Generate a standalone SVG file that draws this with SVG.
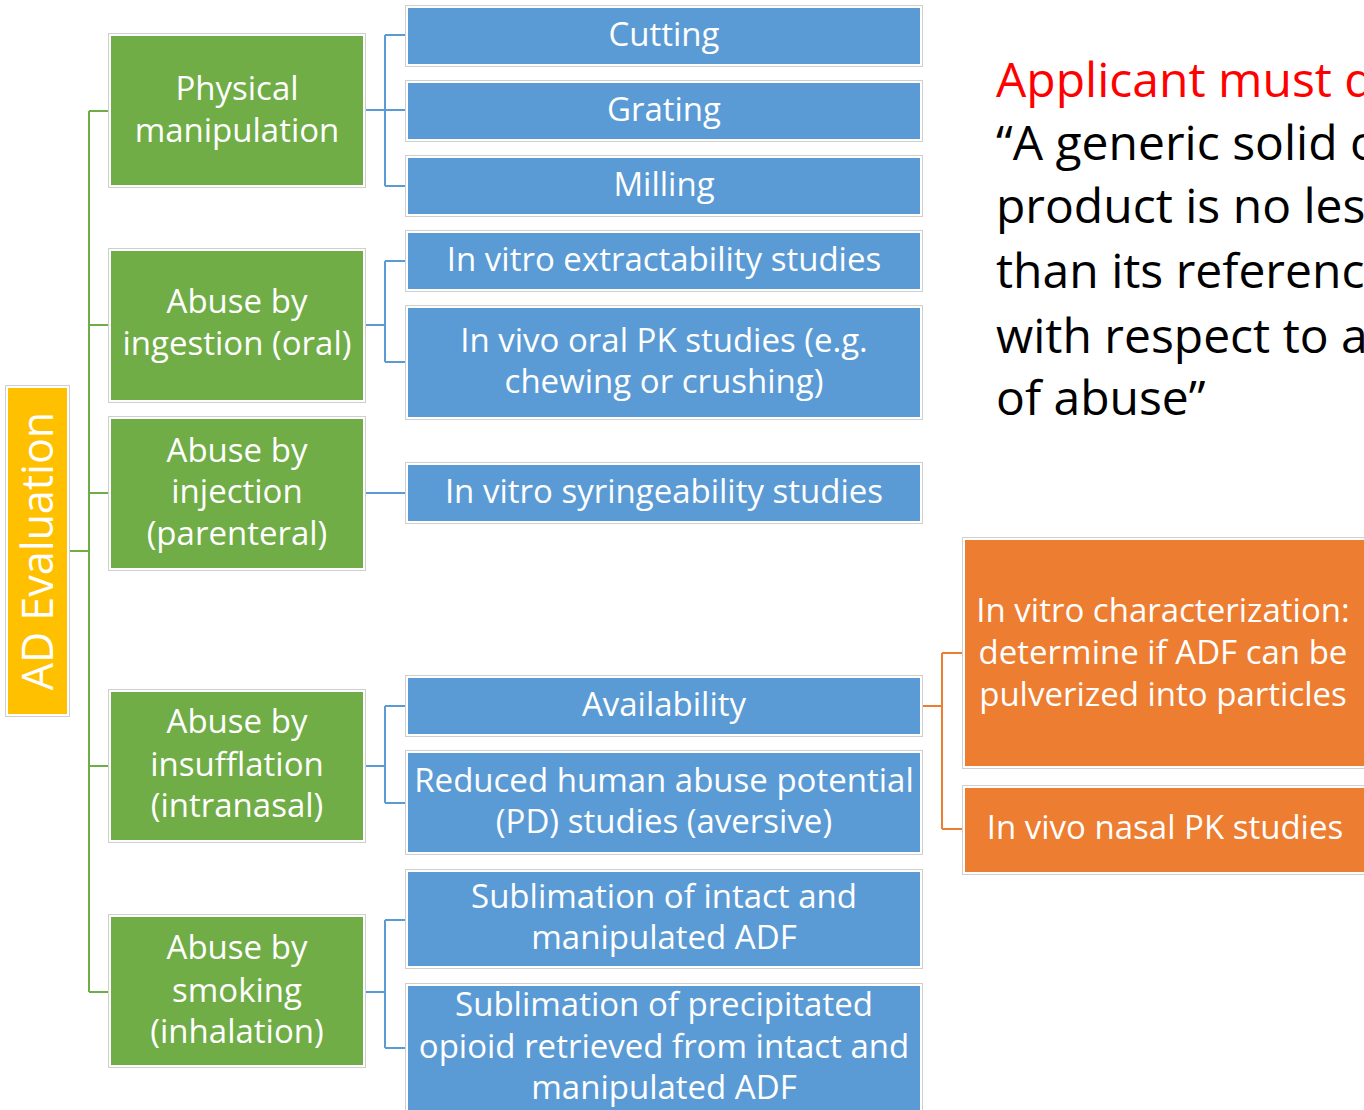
<svg xmlns="http://www.w3.org/2000/svg" width="1364" height="1110" viewBox="0 0 1364 1110">
<style>
.frame{fill:none;stroke:#cfcfcf;stroke-width:1}
.g{fill:#70AD47;stroke:#ffffff;stroke-width:2}
.b{fill:#5B9BD5;stroke:#ffffff;stroke-width:2}
.o{fill:#ED7D31;stroke:#ffffff;stroke-width:2}
.y{fill:#FFC000;stroke:#ffffff;stroke-width:2}
.t{font-family:"Open Sans","Noto Sans",sans-serif;fill:#ffffff;text-anchor:middle;font-size:33px}
.cg{fill:none;stroke:#70AD47;stroke-width:2}
.cb{fill:none;stroke:#5B9BD5;stroke-width:2}
.co{fill:none;stroke:#ED7D31;stroke-width:2}
.q{font-family:"Open Sans","Noto Sans",sans-serif;font-size:48px;fill:#000000}
</style>
<rect width="1364" height="1110" fill="#ffffff"/>
<g id="connectors">
<path class="cg" d="M69,551 H89 M89,111 V992 M89,111 H108 M89,325 H108 M89,493 H108 M89,766 H108 M89,992 H108"/>
<path class="cb" d="M366,110 H385 M385,35 V186 M385,35 H405 M385,110 H405 M385,186 H405"/>
<path class="cb" d="M366,325 H385 M385,261 V362 M385,261 H405 M385,362 H405"/>
<path class="cb" d="M366,493 H405"/>
<path class="cb" d="M366,766 H385 M385,706 V803 M385,706 H405 M385,803 H405"/>
<path class="cb" d="M366,992 H385 M385,920 V1048 M385,920 H405 M385,1048 H405"/>
<path class="co" d="M923,706 H942 M942,653 V829 M942,653 H962 M942,829 H962"/>
</g>
<g id="ad-evaluation">
<rect class="frame" x="5.5" y="385.5" width="64" height="331"/>
<rect class="y" x="7" y="387" width="61" height="328"/>
<text class="t" style="font-size:43px" transform="translate(53,551) rotate(-90)">AD Evaluation</text>
</g>
<g id="physical">
<rect class="frame" x="108.5" y="33.5" width="257" height="154"/>
<rect class="g" x="110" y="35" width="254" height="151"/>
<text class="t" x="237" y="100">Physical</text>
<text class="t" x="237" y="142">manipulation</text>
</g>
<g id="ingestion">
<rect class="frame" x="108.5" y="248.5" width="257" height="154"/>
<rect class="g" x="110" y="250" width="254" height="151"/>
<text class="t" x="237" y="313">Abuse by</text>
<text class="t" x="237" y="355">ingestion (oral)</text>
</g>
<g id="injection">
<rect class="frame" x="108.5" y="416.5" width="257" height="154"/>
<rect class="g" x="110" y="418" width="254" height="151"/>
<text class="t" x="237" y="462">Abuse by</text>
<text class="t" x="237" y="503">injection</text>
<text class="t" x="237" y="545">(parenteral)</text>
</g>
<g id="insufflation">
<rect class="frame" x="108.5" y="689.5" width="257" height="153"/>
<rect class="g" x="110" y="691" width="254" height="150"/>
<text class="t" x="237" y="733">Abuse by</text>
<text class="t" x="237" y="776">insufflation</text>
<text class="t" x="237" y="817">(intranasal)</text>
</g>
<g id="smoking">
<rect class="frame" x="108.5" y="914.5" width="257" height="153"/>
<rect class="g" x="110" y="916" width="254" height="150"/>
<text class="t" x="237" y="959">Abuse by</text>
<text class="t" x="237" y="1002">smoking</text>
<text class="t" x="237" y="1043">(inhalation)</text>
</g>
<g id="cutting">
<rect class="frame" x="405.5" y="5.5" width="517" height="61"/>
<rect class="b" x="407" y="7" width="514" height="58"/>
<text class="t" x="664" y="46">Cutting</text>
</g>
<g id="grating">
<rect class="frame" x="405.5" y="80.5" width="517" height="61"/>
<rect class="b" x="407" y="82" width="514" height="58"/>
<text class="t" x="664" y="121">Grating</text>
</g>
<g id="milling">
<rect class="frame" x="405.5" y="155.5" width="517" height="61"/>
<rect class="b" x="407" y="157" width="514" height="58"/>
<text class="t" x="664" y="196">Milling</text>
</g>
<g id="extractability">
<rect class="frame" x="405.5" y="230.5" width="517" height="61"/>
<rect class="b" x="407" y="232" width="514" height="58"/>
<text class="t" x="664" y="271">In vitro extractability studies</text>
</g>
<g id="oral-pk">
<rect class="frame" x="405.5" y="305.5" width="517" height="114"/>
<rect class="b" x="407" y="307" width="514" height="111"/>
<text class="t" x="664" y="352">In vivo oral PK studies (e.g.</text>
<text class="t" x="664" y="393">chewing or crushing)</text>
</g>
<g id="syringeability">
<rect class="frame" x="405.5" y="462.5" width="517" height="61"/>
<rect class="b" x="407" y="464" width="514" height="58"/>
<text class="t" x="664" y="503">In vitro syringeability studies</text>
</g>
<g id="availability">
<rect class="frame" x="405.5" y="675.5" width="517" height="61"/>
<rect class="b" x="407" y="677" width="514" height="58"/>
<text class="t" x="664" y="716">Availability</text>
</g>
<g id="reduced">
<rect class="frame" x="405.5" y="750.5" width="517" height="104"/>
<rect class="b" x="407" y="752" width="514" height="101"/>
<text class="t" x="664" y="792">Reduced human abuse potential</text>
<text class="t" x="664" y="833">(PD) studies (aversive)</text>
</g>
<g id="sublimation-intact">
<rect class="frame" x="405.5" y="869.5" width="517" height="99"/>
<rect class="b" x="407" y="871" width="514" height="96"/>
<text class="t" x="664" y="908">Sublimation of intact and</text>
<text class="t" x="664" y="949">manipulated ADF</text>
</g>
<g id="sublimation-precipitated">
<rect class="frame" x="405.5" y="983.5" width="517" height="130"/>
<rect class="b" x="407" y="985" width="514" height="130"/>
<text class="t" x="664" y="1016">Sublimation of precipitated</text>
<text class="t" x="664" y="1058">opioid retrieved from intact and</text>
<text class="t" x="664" y="1099">manipulated ADF</text>
</g>
<g id="in-vitro-characterization">
<rect class="frame" x="962.5" y="537.5" width="410" height="231"/>
<rect class="o" x="964" y="539" width="410" height="228"/>
<text class="t" x="1163" y="622">In vitro characterization:</text>
<text class="t" x="1163" y="664">determine if ADF can be</text>
<text class="t" x="1163" y="706">pulverized into particles</text>
</g>
<g id="nasal-pk">
<rect class="frame" x="962.5" y="785.5" width="410" height="89"/>
<rect class="o" x="964" y="787" width="410" height="86"/>
<text class="t" x="1165" y="839">In vivo nasal PK studies</text>
</g>
<g id="statement">
<text class="q" x="996" y="97" style="fill:#FF0000">Applicant must demonstrate</text>
<text class="q" x="996" y="160">“A generic solid oral</text>
<text class="q" x="996" y="223">product is no less</text>
<text class="q" x="996" y="288">than its reference</text>
<text class="q" x="996" y="353">with respect to all</text>
<text class="q" x="996" y="415">of abuse”</text>
</g>
</svg>
